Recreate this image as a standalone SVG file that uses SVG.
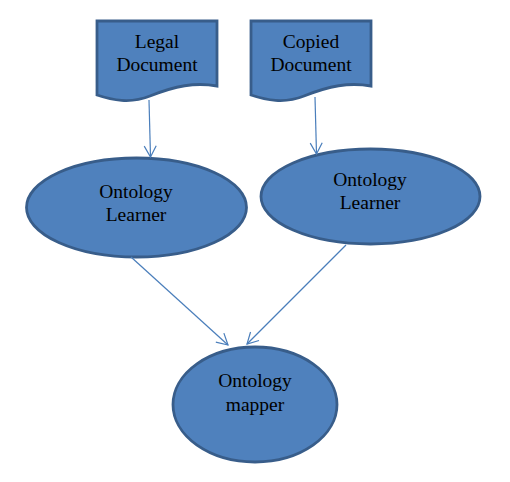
<svg xmlns="http://www.w3.org/2000/svg" width="510" height="482" viewBox="0 0 510 482">
<defs>
<style>
.shape{fill:#4F81BD;stroke:#385D8A;stroke-width:2.8}
.lbl{font-family:"Liberation Serif","Times New Roman",serif;font-size:19.5px;fill:#000;text-anchor:middle}
.conn{stroke:#4A7EBB;stroke-width:1.2;fill:none}
</style>
<marker id="arr" markerWidth="14" markerHeight="14" refX="12" refY="7" orient="auto" markerUnits="userSpaceOnUse">
<path d="M1,1 L12,7 L1,13" fill="none" stroke="#4A7EBB" stroke-width="1.2"/>
</marker>
</defs>
<rect width="510" height="482" fill="#fff"/>
<g id="legal-doc">
<path class="shape" d="M97,21 H217 V86 C195,82 175,86 150,96 C130,104 112,100 97,95 Z"/>
<text class="lbl" x="157" y="48">Legal</text>
<text class="lbl" x="157" y="71">Document</text>
</g>
<g id="copied-doc">
<path class="shape" d="M251,21 H371 V86 C349,82 329,86 304,96 C284,104 266,100 251,95 Z"/>
<text class="lbl" x="311" y="48">Copied</text>
<text class="lbl" x="311" y="71">Document</text>
</g>
<g id="learner-1">
<ellipse class="shape" cx="136.5" cy="207.5" rx="110" ry="49.5"/>
<text class="lbl" x="136" y="198">Ontology</text>
<text class="lbl" x="136" y="221">Learner</text>
</g>
<g id="learner-2">
<ellipse class="shape" cx="370.5" cy="196.5" rx="109.5" ry="47.5"/>
<text class="lbl" x="370" y="186">Ontology</text>
<text class="lbl" x="370" y="209">Learner</text>
</g>
<g id="mapper">
<ellipse class="shape" cx="255" cy="404.5" rx="82" ry="57.5"/>
<text class="lbl" x="255" y="387">Ontology</text>
<text class="lbl" x="255" y="411">mapper</text>
</g>
<g id="connectors">
<line class="conn" x1="149" y1="100" x2="150.5" y2="157" marker-end="url(#arr)"/>
<line class="conn" x1="315" y1="97" x2="316.5" y2="154" marker-end="url(#arr)"/>
<line class="conn" x1="131" y1="257" x2="228" y2="345" marker-end="url(#arr)"/>
<line class="conn" x1="346" y1="245" x2="247" y2="344" marker-end="url(#arr)"/>
</g>
</svg>
